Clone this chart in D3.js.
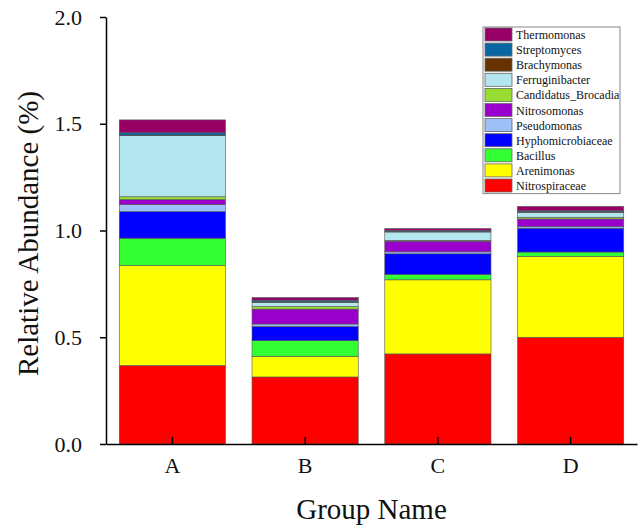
<!DOCTYPE html>
<html>
<head>
<meta charset="utf-8">
<script src="https://cdn.jsdelivr.net/npm/d3@7"></script>
<style>
  body { margin: 0; background: #fff; }
  svg { font-family: 'Liberation Serif', 'Times New Roman', serif; }
  .axis path, .axis line { stroke: #000; stroke-width: 1.5; }
  .axis text { font-family: 'Liberation Serif', 'Times New Roman', serif; font-size: 22px; fill: #111; }
</style>
</head>
<body>
<div id="chart"></div>
<script>
var groups = ['A', 'B', 'C', 'D'];

// genera, bottom of the stack first
var taxa = ['Nitrospiraceae', 'Arenimonas', 'Bacillus', 'Hyphomicrobiaceae', 'Pseudomonas',
  'Nitrosomonas', 'Candidatus_Brocadia', 'Ferruginibacter', 'Brachymonas', 'Streptomyces', 'Thermomonas'];

var nitrospiraceae = [0.368, 0.314, 0.422, 0.500];
var arenimonas = [0.468, 0.097, 0.347, 0.379];
var bacillus = [0.128, 0.073, 0.025, 0.020];
var hyphomicrobiaceae = [0.125, 0.067, 0.097, 0.112];
var pseudomonas = [0.033, 0.011, 0.009, 0.008];
var nitrosomonas = [0.023, 0.070, 0.050, 0.035];
var candidatusBrocadia = [0.013, 0.012, 0.004, 0.008];
var ferruginibacter = [0.286, 0.019, 0.039, 0.023];
var brachymonas = [0.003, 0.003, 0.003, 0.003];
var streptomyces = [0.011, 0.008, 0.005, 0.005];
var thermomonas = [0.060, 0.012, 0.008, 0.020];

var yTicks = [0, 0.5, 1.0, 1.5, 2.0];

var colors = ['#ff0000', '#ffff00', '#33ff33', '#0000ff', '#9fbff7',
  '#9900cc', '#99dd33', '#b3e6ee', '#663300', '#0a66a3', '#990066'];

var series = [nitrospiraceae, arenimonas, bacillus, hyphomicrobiaceae, pseudomonas,
  nitrosomonas, candidatusBrocadia, ferruginibacter, brachymonas, streptomyces, thermomonas];

var table = groups.map(function (g, i) {
  var row = { group: g };
  taxa.forEach(function (t, k) { row[t] = series[k][i]; });
  return row;
});

var width = 640;
var height = 525;
var margin = { top: 17, right: 3, bottom: 81, left: 106 };
var graphWidth = width - margin.left - margin.right;
var graphHeight = height - margin.top - margin.bottom;

var svg = d3.select('#chart')
  .append('svg')
  .attr('width', width)
  .attr('height', height);

var graph = svg.append('g')
  .attr('transform', 'translate(' + margin.left + ',' + margin.top + ')');

var x = d3.scaleBand()
  .domain(groups)
  .range([0, graphWidth])
  .paddingInner(0.2)
  .paddingOuter(0.1);

var y = d3.scaleLinear()
  .domain([0, 2])
  .range([graphHeight, 0]);

var stacked = d3.stack().keys(taxa)(table);

var color = d3.scaleOrdinal().domain(taxa).range(colors);

// stacked bars
graph.selectAll('g.layer')
  .data(stacked)
  .enter()
  .append('g')
  .attr('class', 'layer')
  .attr('fill', function (d) { return color(d.key); })
  .selectAll('rect')
  .data(function (d) { return d; })
  .enter()
  .append('rect')
  .attr('x', function (d) { return x(d.data.group); })
  .attr('y', function (d) { return y(d[1]); })
  .attr('width', x.bandwidth())
  .attr('height', function (d) { return y(d[0]) - y(d[1]); })
  .attr('stroke', '#555')
  .attr('stroke-width', 0.6);

// axes
var xAxis = d3.axisBottom(x).tickSizeInner(-7).tickSizeOuter(0).tickPadding(13);
graph.append('g')
  .attr('class', 'axis')
  .attr('transform', 'translate(0,' + graphHeight + ')')
  .call(xAxis);

var yAxis = d3.axisLeft(y)
  .tickValues(yTicks)
  .tickFormat(d3.format('.1f'))
  .tickSizeInner(6)
  .tickSizeOuter(0)
  .tickPadding(18);
graph.append('g')
  .attr('class', 'axis')
  .call(yAxis);

// axis titles
svg.append('text')
  .attr('x', margin.left + graphWidth / 2)
  .attr('y', 519)
  .attr('text-anchor', 'middle')
  .style('font-size', '29px')
  .style('fill', '#111')
  .text('Group Name');

svg.append('text')
  .attr('transform', 'translate(38,' + (margin.top + graphHeight / 2 + 3) + ') rotate(-90)')
  .attr('text-anchor', 'middle')
  .style('font-size', '29px')
  .style('fill', '#111')
  .text('Relative Abundance (%)');

// legend, top entry is top of the stack
var legendTaxa = taxa.slice().reverse();
var rowH = 15.1;
var legend = svg.append('g').attr('transform', 'translate(483,27)');
legend.append('rect')
  .attr('width', 137)
  .attr('height', rowH * legendTaxa.length + 0.5)
  .attr('fill', '#fff')
  .attr('stroke', '#888')
  .attr('stroke-width', 1);

var item = legend.selectAll('g.item')
  .data(legendTaxa)
  .enter()
  .append('g')
  .attr('class', 'item')
  .attr('transform', function (d, i) { return 'translate(2,' + (1 + i * rowH) + ')'; });

item.append('rect')
  .attr('width', 27)
  .attr('height', 13)
  .attr('fill', function (d) { return color(d); })
  .attr('stroke', '#666')
  .attr('stroke-width', 0.8);

item.append('text')
  .attr('x', 31)
  .attr('y', 11)
  .style('font-size', '12px')
  .style('fill', '#111')
  .text(function (d) { return d; });
</script>
</body>
</html>
